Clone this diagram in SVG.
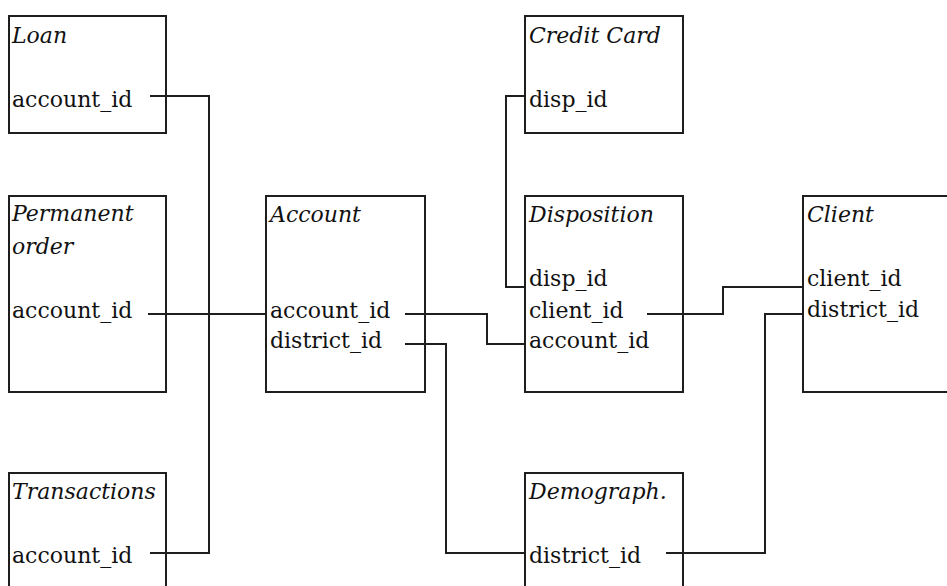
<svg xmlns="http://www.w3.org/2000/svg" width="947" height="586" viewBox="0 0 947 586">
<style>
.box{fill:#ffffff;stroke:#1e1e1e;stroke-width:2}
.t{font-family:"DejaVu Serif","Liberation Serif",serif;font-size:22px;fill:#111111}
.h{font-style:italic}
.c{fill:none;stroke:#1e1e1e;stroke-width:2}
</style>
<rect width="947" height="586" fill="#ffffff"/>
<g id="loan">
<rect class="box" x="9" y="16" width="157" height="117"/>
<text class="t h" x="12" y="43">Loan</text>
<text class="t" x="12" y="107">account_id</text>
</g>
<g id="permanent-order">
<rect class="box" x="9" y="196" width="157" height="196"/>
<text class="t h" x="12" y="221">Permanent</text>
<text class="t h" x="12" y="254">order</text>
<text class="t" x="12" y="318">account_id</text>
</g>
<g id="transactions">
<rect class="box" x="9" y="473" width="157" height="140"/>
<text class="t h" x="12" y="499">Transactions</text>
<text class="t" x="12" y="563">account_id</text>
</g>
<g id="account">
<rect class="box" x="266" y="196" width="159" height="196"/>
<text class="t h" x="270" y="222">Account</text>
<text class="t" x="270" y="318">account_id</text>
<text class="t" x="270" y="348">district_id</text>
</g>
<g id="credit-card">
<rect class="box" x="525" y="16" width="158" height="117"/>
<text class="t h" x="529" y="43">Credit Card</text>
<text class="t" x="529" y="107">disp_id</text>
</g>
<g id="disposition">
<rect class="box" x="525" y="196" width="158" height="196"/>
<text class="t h" x="529" y="222">Disposition</text>
<text class="t" x="529" y="286">disp_id</text>
<text class="t" x="529" y="318">client_id</text>
<text class="t" x="529" y="348">account_id</text>
</g>
<g id="demograph">
<rect class="box" x="525" y="473" width="158" height="140"/>
<text class="t h" x="529" y="499">Demograph.</text>
<text class="t" x="529" y="563">district_id</text>
</g>
<g id="client">
<rect class="box" x="803" y="196" width="200" height="196"/>
<text class="t h" x="807" y="222">Client</text>
<text class="t" x="807" y="286">client_id</text>
<text class="t" x="807" y="317">district_id</text>
</g>
<g id="connectors">
<path class="c" d="M150,96 H209 V553 H150"/>
<path class="c" d="M148,314 H266"/>
<path class="c" d="M405,314 H487 V344 H525"/>
<path class="c" d="M405,344 H446 V553 H525"/>
<path class="c" d="M525,96 H506 V287 H525"/>
<path class="c" d="M647,314 H723 V287 H803"/>
<path class="c" d="M666,553 H765 V314 H803"/>
</g>
</svg>
